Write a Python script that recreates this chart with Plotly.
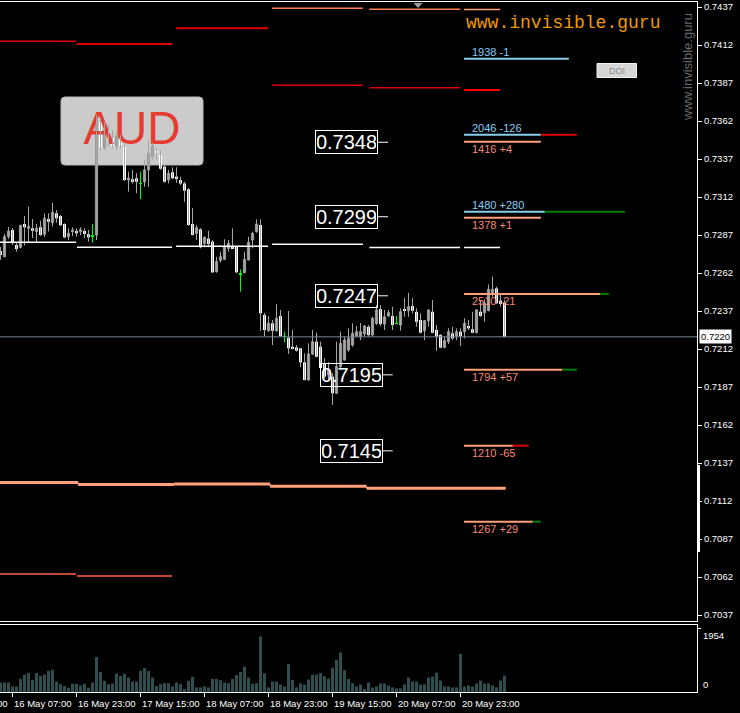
import plotly.graph_objects as go

# ------------------------------------------------------------------ data
hours = list(range(-3, 124))          # hourly bars, hour 0 = 16 May 07:00

opens = [
    0.72765, 0.72727, 0.72859, 0.72903, 0.72804, 0.72789, 0.72942, 0.72914, 0.72914, 0.72892,
    0.72921, 0.72875, 0.72975, 0.72951, 0.73013, 0.72995, 0.72942, 0.72859, 0.72892, 0.72896,
    0.72892, 0.72896, 0.72875, 0.72863, 0.72870, 0.73613, 0.73442, 0.73554, 0.73508, 0.73456,
    0.73508, 0.73451, 0.73232, 0.73237, 0.73243, 0.73209, 0.73220, 0.73298, 0.73383, 0.73423,
    0.73396, 0.73320, 0.73232, 0.73283, 0.73254, 0.73232, 0.73209, 0.73171, 0.72942, 0.72881,
    0.72907, 0.72815, 0.72846, 0.72826, 0.72629, 0.72703, 0.72710, 0.72782, 0.72797, 0.72793,
    0.72613, 0.72622, 0.72706, 0.72837, 0.72892, 0.72936, 0.72344, 0.72240, 0.72289, 0.72240,
    0.72337, 0.72201, 0.72194, 0.72135, 0.72131, 0.72125, 0.72032, 0.71916, 0.72087, 0.72168,
    0.72135, 0.72026, 0.71949, 0.71938, 0.71829, 0.72004, 0.72048, 0.72113, 0.72146, 0.72205,
    0.72201, 0.72219, 0.72266, 0.72212, 0.72289, 0.72383, 0.72284, 0.72337, 0.72337, 0.72289,
    0.72278, 0.72383, 0.72372, 0.72403, 0.72365, 0.72311, 0.72240, 0.72306, 0.72365, 0.72245,
    0.72212, 0.72131, 0.72168, 0.72223, 0.72205, 0.72234, 0.72234, 0.72271, 0.72250, 0.72227,
    0.72365, 0.72359, 0.72372, 0.72490, 0.72519, 0.72438, 0.72425,
]
highs = [
    0.72791, 0.72877, 0.72923, 0.72916, 0.72819, 0.72936, 0.72995, 0.73056, 0.72975, 0.72942,
    0.72964, 0.73013, 0.73013, 0.73082, 0.73034, 0.73002, 0.72947, 0.72914, 0.72921, 0.72914,
    0.72921, 0.72914, 0.72903, 0.72942, 0.73659, 0.73640, 0.73613, 0.73594, 0.73561, 0.73548,
    0.73528, 0.73462, 0.73287, 0.73298, 0.73276, 0.73287, 0.73363, 0.73495, 0.73475, 0.73442,
    0.73429, 0.73331, 0.73298, 0.73316, 0.73316, 0.73254, 0.73220, 0.73179, 0.73048, 0.72936,
    0.72916, 0.72859, 0.72898, 0.72837, 0.72727, 0.72760, 0.72842, 0.72837, 0.72914, 0.72797,
    0.72644, 0.72760, 0.72859, 0.72892, 0.72973, 0.72973, 0.72357, 0.72337, 0.72311, 0.72414,
    0.72377, 0.72234, 0.72370, 0.72245, 0.72146, 0.72127, 0.72091, 0.72157, 0.72245, 0.72227,
    0.72168, 0.72059, 0.72034, 0.71960, 0.72168, 0.72234, 0.72201, 0.72256, 0.72289, 0.72271,
    0.72291, 0.72278, 0.72278, 0.72332, 0.72409, 0.72409, 0.72377, 0.72377, 0.72398, 0.72337,
    0.72388, 0.72454, 0.72490, 0.72454, 0.72388, 0.72355, 0.72311, 0.72381, 0.72442, 0.72278,
    0.72219, 0.72201, 0.72256, 0.72266, 0.72256, 0.72256, 0.72322, 0.72311, 0.72365, 0.72381,
    0.72442, 0.72447, 0.72545, 0.72596, 0.72530, 0.72489, 0.72442,
]
lows = [
    0.72706, 0.72725, 0.72844, 0.72804, 0.72760, 0.72782, 0.72800, 0.72817, 0.72850, 0.72817,
    0.72863, 0.72859, 0.72892, 0.72925, 0.72951, 0.72929, 0.72848, 0.72837, 0.72863, 0.72859,
    0.72870, 0.72848, 0.72826, 0.72819, 0.72837, 0.73429, 0.73429, 0.73456, 0.73442, 0.73429,
    0.73442, 0.73225, 0.73155, 0.73209, 0.73145, 0.73105, 0.73187, 0.73187, 0.73363, 0.73363,
    0.73298, 0.73214, 0.73209, 0.73237, 0.73214, 0.73199, 0.73089, 0.72929, 0.72867, 0.72837,
    0.72782, 0.72789, 0.72789, 0.72622, 0.72622, 0.72689, 0.72706, 0.72760, 0.72782, 0.72618,
    0.72497, 0.72618, 0.72703, 0.72782, 0.72885, 0.72240, 0.72205, 0.72234, 0.72146, 0.72234,
    0.72201, 0.72164, 0.72087, 0.72118, 0.72102, 0.72000, 0.71913, 0.71913, 0.72080, 0.72065,
    0.71993, 0.71927, 0.71916, 0.71752, 0.71824, 0.71982, 0.72043, 0.72102, 0.72135, 0.72201,
    0.72179, 0.72201, 0.72201, 0.72205, 0.72278, 0.72271, 0.72245, 0.72332, 0.72245, 0.72282,
    0.72240, 0.72332, 0.72332, 0.72355, 0.72266, 0.72223, 0.72179, 0.72266, 0.72223, 0.72109,
    0.72125, 0.72125, 0.72153, 0.72179, 0.72179, 0.72140, 0.72190, 0.72245, 0.72223, 0.72223,
    0.72332, 0.72299, 0.72368, 0.72464, 0.72416, 0.72398, 0.72199,
]
closes = [
    0.72738, 0.72859, 0.72896, 0.72817, 0.72778, 0.72934, 0.72921, 0.72925, 0.72898, 0.72914,
    0.72870, 0.72980, 0.72957, 0.73019, 0.72980, 0.72934, 0.72855, 0.72881, 0.72903, 0.72881,
    0.72905, 0.72877, 0.72855, 0.72863, 0.73627, 0.73442, 0.73561, 0.73495, 0.73456, 0.73521,
    0.73456, 0.73232, 0.73245, 0.73220, 0.73220, 0.73209, 0.73298, 0.73408, 0.73456, 0.73410,
    0.73306, 0.73220, 0.73276, 0.73243, 0.73243, 0.73209, 0.73162, 0.72936, 0.72870, 0.72918,
    0.72789, 0.72855, 0.72811, 0.72624, 0.72696, 0.72727, 0.72793, 0.72815, 0.72784, 0.72625,
    0.72613, 0.72710, 0.72822, 0.72881, 0.72942, 0.72355, 0.72245, 0.72289, 0.72240, 0.72322,
    0.72205, 0.72201, 0.72125, 0.72120, 0.72109, 0.72032, 0.71916, 0.72087, 0.72168, 0.72069,
    0.71995, 0.71938, 0.71982, 0.71829, 0.72004, 0.72157, 0.72179, 0.72190, 0.72223, 0.72234,
    0.72234, 0.72271, 0.72212, 0.72322, 0.72377, 0.72284, 0.72332, 0.72359, 0.72278, 0.72289,
    0.72365, 0.72372, 0.72398, 0.72372, 0.72299, 0.72227, 0.72306, 0.72377, 0.72227, 0.72201,
    0.72129, 0.72175, 0.72234, 0.72190, 0.72234, 0.72205, 0.72289, 0.72256, 0.72227, 0.72377,
    0.72337, 0.72421, 0.72513, 0.72513, 0.72421, 0.72416, 0.72200,
]
volumes = [
    290, 290, 290, 170, 170, 400, 530, 580, 370, 580,
    490, 530, 650, 680, 320, 240, 180, 130, 250, 250,
    200, 250, 130, 290, 1070, 610, 340, 240, 260, 560,
    490, 560, 440, 320, 320, 650, 730, 640, 440, 180,
    240, 270, 270, 170, 290, 240, 90, 340, 460, 140,
    140, 170, 140, 400, 400, 360, 290, 270, 400, 520,
    610, 770, 440, 250, 270, 1700, 570, 140, 320, 320,
    230, 170, 860, 370, 140, 260, 220, 380, 530, 530,
    580, 480, 410, 740, 980, 1210, 670, 400, 270, 170,
    230, 90, 290, 140, 170, 260, 260, 200, 140, 110,
    110, 230, 440, 320, 320, 230, 230, 440, 470, 590,
    350, 170, 170, 140, 140, 1160, 170, 200, 170, 260,
    350, 260, 260, 200, 140, 350, 500,
]

price_tick_labels = ["0.7437", "0.7412", "0.7387", "0.7362", "0.7337", "0.7312", "0.7287",
                     "0.7262", "0.7237", "0.7212", "0.7187", "0.7162", "0.7137", "0.7112",
                     "0.7087", "0.7062", "0.7037"]
time_tick_hours = [-16, 0, 16, 32, 48, 64, 80, 96, 112]
time_tick_labels = ["15 May 15:00", "16 May 07:00", "16 May 23:00", "17 May 15:00",
                    "18 May 07:00", "18 May 23:00", "19 May 15:00", "20 May 07:00",
                    "20 May 23:00"]
last_price = 0.7220
volume_scale_label = 1954

# daily level segments (hours)
day_start = [-20.0, 16.1, 40.9, 64.9, 89.2, 112.9]
day_end = [15.9, 39.9, 63.9, 87.6, 111.9, 121.9]
top_level = [None, None, None, 0.74361, 0.74355, 0.74353]
red_level = [0.74144, 0.74127, 0.74230, 0.73855, 0.73839, 0.73824]
pivot_level = [0.72822, 0.72789, 0.72796, 0.72809, 0.72788, 0.72788]
low_level = [0.70640, 0.70627, None, None, None, None]
support_bounds = [-20.0, 16.4, 40.4, 64.4, 88.5, 123.3]
support_level = [0.71242, 0.71229, 0.71232, 0.71217, 0.71204]

level_label_prices = [0.7348, 0.7299, 0.7247, 0.7195, 0.7145]
level_label_texts = ["0.7348", "0.7299", "0.7247", "0.7195", "0.7145"]

flow_prices = [0.74030, 0.73530, 0.73484, 0.73023, 0.72984, 0.72482, 0.71984, 0.71484, 0.70984]
flow_texts = ["1938 -1", "2046 -126", "1416 +4", "1480 +280", "1378 +1",
              "2510 -21", "1794 +57", "1210 -65", "1267 +29"]
flow_side = ["buy", "buy", "sell", "buy", "sell", "sell", "sell", "sell", "sell"]
flow_len = [26.2, 19.2, 19.2, 20.2, 19.2, 34.0, 24.5, 12.2, 17.2]
flow_ext = [0, 9.0, 0, 20.0, 0, 2.2, 3.7, 4.0, 2.0]
flow_ext_color = ["", "red", "", "green", "", "green", "green", "red", "green"]

# ------------------------------------------------------------------ layout constants
W, H = 740, 713
PLOT_W = 697
TOP, BOTTOM, MAIN_BOTTOM, VOL_TOP = 2, 692, 621, 625
HOUR0_PX, PX_PER_HOUR = 12.5, 4.0
Y_MAX, Y_MIN = 0.744029, 0.703306
VOL_MAX = volume_scale_label * (BOTTOM - VOL_TOP) / 64.0
FONT = "Liberation Sans"


def hx(px):
    return (px - HOUR0_PX) / PX_PER_HOUR


def py2p(py):
    return Y_MAX - (py - TOP) * (Y_MAX - Y_MIN) / (MAIN_BOTTOM - TOP)


def pxp(px):
    return px / PLOT_W


def pyp(py):
    return (BOTTOM - py) / (BOTTOM - TOP)


fig = go.Figure()

# AUD label box (behind candles)
bx0, by0, bx1, by1, r = 61, 97, 203, 165, 4
path = (f"M {hx(bx0 + r)},{py2p(by0)} L {hx(bx1 - r)},{py2p(by0)} "
        f"Q {hx(bx1)},{py2p(by0)} {hx(bx1)},{py2p(by0 + r)} L {hx(bx1)},{py2p(by1 - r)} "
        f"Q {hx(bx1)},{py2p(by1)} {hx(bx1 - r)},{py2p(by1)} L {hx(bx0 + r)},{py2p(by1)} "
        f"Q {hx(bx0)},{py2p(by1)} {hx(bx0)},{py2p(by1 - r)} L {hx(bx0)},{py2p(by0 + r)} "
        f"Q {hx(bx0)},{py2p(by0)} {hx(bx0 + r)},{py2p(by0)} Z")
fig.add_shape(type="path", path=path, xref="x", yref="y", layer="below",
              fillcolor="#CBCBCB", line=dict(color="#B8B8B8", width=1))
fig.add_trace(go.Scatter(x=[hx(132)], y=[py2p(132)], mode="text", text=["AUD"],
                         textfont=dict(family=FONT, size=46, color="#E63B30"),
                         hoverinfo="skip"))

# candles
wx, wy, gx, gy = [], [], [], []
bull_x, bull_b, bull_h = [], [], []
bear_x, bear_b, bear_h = [], [], []
doji_x, doji_b = [], []
MIN_BODY = 0.00004
for h, o, hi, lo, c in zip(hours, opens, highs, lows, closes):
    if c == o:
        gx += [h, h, None]
        gy += [lo, hi, None]
        doji_x.append(h)
        doji_b.append(o - MIN_BODY / 2)
        continue
    wx += [h, h, None]
    wy += [lo, hi, None]
    if c > o:
        bull_x.append(h); bull_b.append(o); bull_h.append(max(c - o, MIN_BODY))
    else:
        bear_x.append(h); bear_b.append(c); bear_h.append(max(o - c, MIN_BODY))

fig.add_trace(go.Scatter(x=wx, y=wy, mode="lines", line=dict(color="#A6A6A6", width=1),
                         hoverinfo="skip"))
fig.add_trace(go.Scatter(x=gx, y=gy, mode="lines", line=dict(color="#00FF00", width=1),
                         hoverinfo="skip"))
fig.add_trace(go.Bar(x=bull_x, y=bull_h, base=bull_b, width=0.55,
                     marker=dict(color="black", line=dict(color="#A6A6A6", width=1))))
fig.add_trace(go.Bar(x=bear_x, y=bear_h, base=bear_b, width=0.75,
                     marker=dict(color="white", line=dict(width=0))))
fig.add_trace(go.Bar(x=doji_x, y=[MIN_BODY] * len(doji_x), base=doji_b, width=0.75,
                     marker=dict(color="#00FF00", line=dict(width=0))))

# volume
fig.add_trace(go.Bar(x=hours, y=volumes, width=0.75, xaxis="x2", yaxis="y2",
                     marker=dict(color="#2F4F4F", line=dict(width=0))))

# daily level segments
def seg(x0, x1, y, color, width):
    fig.add_shape(type="line", xref="x", yref="y", x0=x0, x1=x1, y0=y, y1=y,
                  line=dict(color=color, width=width))

for i in range(len(day_start)):
    if top_level[i] is not None:
        seg(day_start[i], day_end[i], top_level[i], "#FF7F50" if i < 5 else "#FFA07A", 1.5)
    if red_level[i] is not None:
        seg(day_start[i], day_end[i], red_level[i], "#FF0000" if i == 5 else "#E00000",
            2 if i in (1, 2, 5) else 1.5)
    if pivot_level[i] is not None:
        seg(day_start[i], day_end[i], pivot_level[i], "#FFFFFF", 1.5)
    if low_level[i] is not None:
        seg(day_start[i], day_end[i], low_level[i], "#FF6347", 1.5)
for i in range(len(support_level)):
    seg(support_bounds[i], support_bounds[i + 1], support_level[i], "#FFA07A", 3)
for i in range(len(support_level) - 1):
    fig.add_shape(type="line", xref="x", yref="y", x0=support_bounds[i + 1],
                  x1=support_bounds[i + 1], y0=support_level[i], y1=support_level[i + 1],
                  line=dict(color="#FFA07A", width=1))

# current price line
fig.add_shape(type="line", xref="paper", yref="y", x0=0, x1=1, y0=last_price, y1=last_price,
              line=dict(color="#778899", width=1))

# level label boxes
for i, (p, t) in enumerate(zip(level_label_prices, level_label_texts)):
    cx = 346.5 if i < 3 else 351
    right = 378 if i < 3 else 382.7
    fig.add_annotation(x=hx(cx), y=p, xref="x", yref="y", text=t, showarrow=False,
                       font=dict(family=FONT, size=20, color="white"),
                       bordercolor="white", borderwidth=1, borderpad=1,
                       width=59, height=20, bgcolor="rgba(0,0,0,0)")
    seg(hx(right), hx(right + 10), p, "#FFFFFF", 1)

# order flow bars
FLOW_X0 = hx(464)
for p, t, s, ln, ex, ec in zip(flow_prices, flow_texts, flow_side, flow_len, flow_ext,
                               flow_ext_color):
    main_c = "#87CEEB" if s == "buy" else "#FFA07A"
    seg(FLOW_X0, FLOW_X0 + ln, p, main_c, 2)
    if ex > 0:
        seg(FLOW_X0 + ln, FLOW_X0 + ln + ex, p, "#E00000" if ec == "red" else "#008000", 2)
    fig.add_annotation(x=hx(470), y=p, xref="x", yref="y", text=t, showarrow=False,
                       xanchor="left", yanchor="middle", yshift=7 if s == "buy" else -7,
                       font=dict(family=FONT, size=11,
                                 color="#87CEFA" if s == "buy" else "#FA8A72"))

# watermark texts / decorations
fig.add_annotation(x=pxp(464), y=pyp(23), xref="paper", yref="paper",
                   text="www.invisible.guru", showarrow=False, xanchor="left",
                   yanchor="middle",
                   font=dict(family="Liberation Mono", size=18, color="#EE9A00"))
fig.add_annotation(x=pxp(688), y=pyp(67), xref="paper", yref="paper",
                   text="www.invisible.guru", showarrow=False, textangle=-90,
                   xanchor="center", yanchor="middle",
                   font=dict(family=FONT, size=13, color="#6A6A6A"))
fig.add_shape(type="rect", xref="paper", yref="paper", x0=pxp(597), x1=pxp(636.5),
              y0=pyp(77.5), y1=pyp(63.5), fillcolor="#D6D6D6",
              line=dict(color="#F2F2F2", width=1))
fig.add_annotation(x=pxp(617), y=pyp(71), xref="paper", yref="paper", text="DOI",
                   showarrow=False, xanchor="center", yanchor="middle",
                   font=dict(family=FONT, size=9, color="#8C8C8C"))
fig.add_shape(type="path", xref="paper", yref="paper",
              path=f"M {pxp(413.5)},{pyp(3)} L {pxp(422.5)},{pyp(3)} L {pxp(418)},{pyp(8)} Z",
              fillcolor="#A0A0A0", line=dict(width=0))
fig.add_shape(type="rect", xref="paper", yref="paper", x0=pxp(697.5), x1=pxp(700),
              y0=pyp(552), y1=pyp(465), fillcolor="white", line=dict(width=0))

# current price tag and volume scale labels
fig.add_annotation(x=1, y=last_price, xref="paper", yref="y", text="0.7220",
                   showarrow=False, xanchor="left", yanchor="middle", xshift=2,
                   bgcolor="white", borderpad=1,
                   font=dict(family=FONT, size=9.5, color="black"))
fig.add_annotation(x=1, y=volume_scale_label, xref="paper", yref="y2",
                   text=str(volume_scale_label), showarrow=False, xanchor="left",
                   yanchor="top", xshift=4, font=dict(family=FONT, size=9.5, color="white"))
fig.add_annotation(x=1, y=0, xref="paper", yref="y2", text="0", showarrow=False,
                   xanchor="left", yanchor="bottom", xshift=4,
                   font=dict(family=FONT, size=9.5, color="white"))

# time labels (left aligned after tick)
for h, t in zip(time_tick_hours, time_tick_labels):
    fig.add_annotation(x=pxp(HOUR0_PX + PX_PER_HOUR * h), y=pyp(703), xref="paper",
                       yref="paper", text=t, showarrow=False, xanchor="left",
                       yanchor="middle", xshift=-1,
                       font=dict(family=FONT, size=9.5, color="white"))

x_range = [hx(0), hx(PLOT_W)]
fig.update_layout(
    width=W, height=H, autosize=False,
    margin=dict(l=0, r=W - PLOT_W, t=TOP, b=H - BOTTOM, pad=0),
    paper_bgcolor="black", plot_bgcolor="black",
    showlegend=False, barmode="overlay", hovermode=False,
    xaxis=dict(range=x_range, domain=[0, 1], anchor="y", showgrid=False, zeroline=False,
               showticklabels=False, showline=True, mirror=True, linecolor="white",
               linewidth=1, ticks=""),
    yaxis=dict(range=[Y_MIN, Y_MAX], domain=[(BOTTOM - MAIN_BOTTOM) / (BOTTOM - TOP), 1],
               side="right", anchor="x", showgrid=False, zeroline=False, showline=True,
               linecolor="white", linewidth=1, ticks="outside", ticklen=4,
               tickcolor="white", tickvals=[float(s) for s in price_tick_labels],
               ticktext=price_tick_labels,
               tickfont=dict(family=FONT, size=9.5, color="white")),
    xaxis2=dict(range=x_range, domain=[0, 1], anchor="y2", matches="x", showgrid=False,
                zeroline=False, showticklabels=False, showline=True, mirror=True,
                linecolor="white", linewidth=1, ticks="outside", ticklen=4,
                tickcolor="white", tickvals=time_tick_hours),
    yaxis2=dict(range=[0, VOL_MAX], domain=[0, (BOTTOM - VOL_TOP) / (BOTTOM - TOP)],
                side="right", anchor="x2", showgrid=False, zeroline=False, showline=True,
                linecolor="white", linewidth=1, ticks="outside", ticklen=3,
                tickcolor="white", tickvals=[volume_scale_label], showticklabels=False),
)

fig.write_html("out.html", config={"displayModeBar": False},
               post_script="document.body.style.margin='0';")
